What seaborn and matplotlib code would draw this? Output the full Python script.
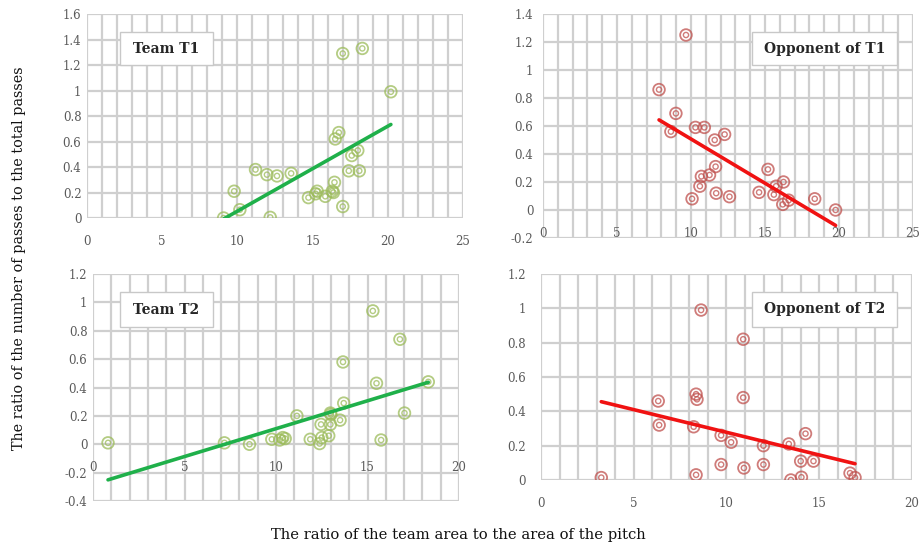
import numpy as np
import pandas as pd
import matplotlib.pyplot as plt
import seaborn as sns
from matplotlib.patches import Rectangle

# Team T1
t1_area = [9.08, 9.78, 10.16, 11.2, 11.96, 12.18, 12.63, 13.57, 14.72, 15.2, 15.3, 15.84,
           16.3, 16.38, 16.45, 16.5, 16.74, 17.0, 17.0, 17.4, 17.6, 18.0, 18.1, 18.3, 20.2]
t1_pass = [0.0, 0.21, 0.065, 0.38, 0.34, 0.005, 0.33, 0.35, 0.16, 0.19, 0.21, 0.17,
           0.21, 0.20, 0.28, 0.62, 0.67, 0.09, 1.29, 0.37, 0.49, 0.53, 0.37, 1.33, 0.99]

# Opponent of T1
o1_area = [7.84, 8.64, 8.98, 9.66, 10.07, 10.3, 10.6, 10.7, 10.9, 11.25, 11.6, 11.66,
           11.7, 12.27, 12.6, 14.6, 15.2, 15.6, 15.75, 16.25, 16.2, 16.6, 18.36, 19.77]
o1_pass = [0.86, 0.56, 0.69, 1.25, 0.08, 0.59, 0.17, 0.24, 0.59, 0.25, 0.50, 0.31,
           0.12, 0.54, 0.095, 0.126, 0.29, 0.11, 0.17, 0.20, 0.04, 0.07, 0.08, 0.0]

# Team T2
t2_area = [0.82, 7.18, 8.55, 9.77, 10.2, 10.37, 10.5, 11.14, 11.87, 12.38, 12.46, 12.5,
           12.88, 12.97, 12.97, 13.0, 13.5, 13.66, 13.7, 15.29, 15.49, 15.74, 16.77, 17.02, 18.32]
t2_pass = [0.01, 0.01, 0.0, 0.035, 0.03, 0.047, 0.04, 0.20, 0.035, 0.005, 0.14, 0.047,
           0.06, 0.22, 0.14, 0.21, 0.17, 0.58, 0.29, 0.94, 0.43, 0.03, 0.74, 0.22, 0.44]

# Opponent of T2
o2_area = [3.25, 6.32, 6.37, 8.23, 8.36, 8.41, 8.36, 8.63, 9.71, 9.71, 10.25, 10.9,
           10.9, 10.94, 11.99, 11.99, 13.36, 13.47, 14.0, 14.04, 14.26, 14.69, 16.66, 16.93]
o2_pass = [0.014, 0.46, 0.32, 0.31, 0.50, 0.47, 0.03, 0.99, 0.26, 0.09, 0.22, 0.82,
           0.48, 0.07, 0.20, 0.09, 0.21, 0.0, 0.11, 0.016, 0.27, 0.11, 0.04, 0.014]

titles = ['Team T1', 'Opponent of T1', 'Team T2', 'Opponent of T2']
x_max = [25, 25, 20, 20]
y_lims = [(0, 1.6), (-0.2, 1.4), (-0.4, 1.2), (0, 1.2)]

sns.set_theme(style='white')
plt.rcParams['font.family'] = ['DejaVu Serif']

fig = plt.figure(figsize=(9.21, 5.49), dpi=100)

# axes positions in figure fractions, plus label pads
positions = [
    [0.0945, 0.6029, 0.4083, 0.3716],
    [0.5896, 0.5665, 0.4017, 0.4080],
    [0.1010, 0.0874, 0.3974, 0.4135],
    [0.5874, 0.1257, 0.4028, 0.3752],
]
y_pads = [4, 7, 4, 11]
boxes = [
    (120, 32, 93, 33),
    (752, 32, 145, 33),
    (120, 292, 93, 35),
    (752, 292, 145, 35),
]

green_dot, green_line = '#9bbb59', '#1fb04a'
red_dot, red_line = '#c0504d', '#f01212'

data = [
    (t1_area, t1_pass, green_dot, green_line),
    (o1_area, o1_pass, red_dot, red_line),
    (t2_area, t2_pass, green_dot, green_line),
    (o2_area, o2_pass, red_dot, red_line),
]

for i, (xs, ys, dot_c, line_c) in enumerate(data):
    ax = fig.add_axes(positions[i])
    df = pd.DataFrame({'area': xs, 'passes': ys})

    # grid first
    ax.set_xlim(0, x_max[i])
    ax.set_ylim(*y_lims[i])
    ax.set_xticks(np.arange(0, x_max[i] + 1, 5))
    ax.set_xticks(np.arange(0, x_max[i] + 1, 1), minor=True)
    yt = np.round(np.arange(y_lims[i][0], y_lims[i][1] + 0.01, 0.2), 1)
    ax.set_yticks(yt)
    ax.set_yticklabels([('%g' % v) for v in yt])
    ax.grid(True, which='both', color='#cfcfcf', linewidth=1.6)
    ax.set_axisbelow(True)

    # scatter: ring with inner ring
    sns.scatterplot(data=df, x='area', y='passes', ax=ax, marker='o', s=70,
                    facecolors='none', edgecolor=dot_c, linewidth=1.3, alpha=0.75, zorder=3)
    sns.scatterplot(data=df, x='area', y='passes', ax=ax, marker='o', s=14,
                    facecolors='none', edgecolor=dot_c, linewidth=1.0, alpha=0.75, zorder=3)
    sns.regplot(data=df, x='area', y='passes', ax=ax, scatter=False, ci=None, truncate=True,
                line_kws=dict(color=line_c, linewidth=2.6, zorder=4))

    ax.set_xlim(0, x_max[i])
    ax.set_ylim(*y_lims[i])
    ax.set_xlabel('')
    ax.set_ylabel('')
    for s in ax.spines.values():
        s.set_visible(False)
    ax.spines['bottom'].set_position(('data', 0))
    ax.tick_params(axis='x', which='both', length=0, pad=12, labelsize=8.5, labelcolor='#5a5a5a')
    ax.tick_params(axis='y', which='both', length=0, pad=y_pads[i], labelsize=8.5, labelcolor='#5a5a5a')

    # title box (pixel layout)
    bx, by, bw, bh = boxes[i]
    fig.add_artist(Rectangle((bx / 921, 1 - (by + bh) / 549), bw / 921, bh / 549,
                             transform=fig.transFigure, facecolor='white',
                             edgecolor='#c8c8c8', linewidth=1.0, zorder=5))
    fig.text((bx + bw / 2) / 921, 1 - (by + bh / 2) / 549, titles[i], ha='center', va='center',
             fontsize=10, fontweight='bold', color='#262626', zorder=6)

fig.text(19 / 921, 1 - 258 / 549, 'The ratio of the number of passes to the total passes',
         rotation=90, ha='center', va='center', fontsize=10.4, color='#111111')
fig.text(458 / 921, 1 - 535 / 549, 'The ratio of the team area to the area of the pitch',
         ha='center', va='center', fontsize=10.6, color='#111111')

plt.savefig('out.png', dpi=100)
